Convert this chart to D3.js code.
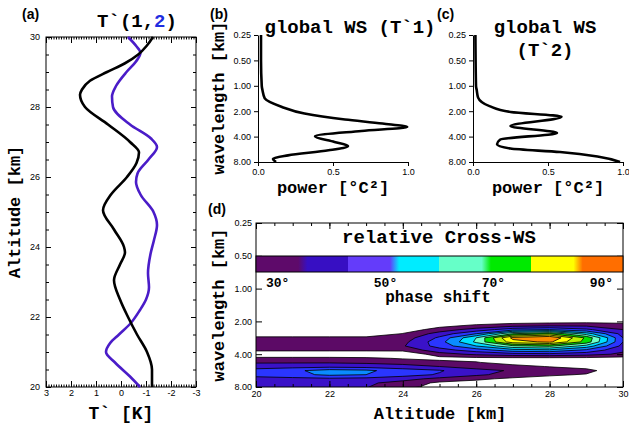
<!doctype html>
<html>
<head>
<script src="https://cdnjs.cloudflare.com/ajax/libs/d3/7.8.5/d3.min.js"></script>
<style>
body { margin: 0; background: #fff; }
svg { display: block; }
.tick text { font-family: "Liberation Sans", Arial, sans-serif; font-size: 9px; fill: #000; }
.tick line, .domain { stroke: #000; }
.mono { font-family: "Liberation Mono", "DejaVu Sans Mono", monospace; font-weight: bold; fill: #000; }
.plab { font-family: "Liberation Sans", Arial, sans-serif; font-size: 14px; font-weight: bold; fill: #000; }
</style>
</head>
<body>
<svg width="629" height="427"></svg>
<script>
// (a) temperature perturbation profiles
const blackAlt = [30, 29.75, 29.5, 29.25, 29, 28.75, 28.5, 28.35, 28, 27.5, 27, 26.7, 26.4, 26, 25.5, 25.05, 24.5, 24, 23.85, 23.5, 23.05, 22.5, 22, 21.5, 21, 20.5, 20];
const blackT = [-1.28, -1.03, -0.69, -0.16, 0.56, 1.24, 1.56, 1.64, 1.44, 0.52, -0.36, -0.72, -0.62, -0.24, 0.4, 0.72, 0.28, -0.12, -0.16, 0.04, 0.28, 0.04, -0.28, -0.64, -1.04, -1.24, -1.24];
const blueAlt = [30, 29.75, 29.55, 29.3, 29, 28.6, 28.3, 28, 27.5, 27.1, 26.86, 26.5, 26.1, 25.86, 25.5, 25, 24.63, 24.2, 23.8, 23.25, 22.85, 22.5, 22.2, 21.8, 21.5, 21.25, 21, 20.7, 20.3, 20];
const blueT = [-0.28, -0.6, -0.78, -0.6, -0.22, 0.2, 0.36, 0.32, -0.36, -1.2, -1.44, -1.1, -0.66, -0.6, -0.78, -1.3, -1.44, -1.32, -1.18, -1.08, -1.12, -1.0, -0.76, -0.36, 0.08, 0.44, 0.6, 0.24, -0.36, -0.76];
const altTicks = [20, 22, 24, 26, 28, 30];
const tTicks = [3, 2, 1, 0, -1, -2, -3];

// (b), (c) global wavelet spectra
const ws1Wave = [0.25, 0.5, 1.0, 1.13, 1.41, 1.78, 2.13, 2.51, 2.8, 3.08, 3.43, 3.97, 4.63, 5.17, 5.82, 6.68, 7.31, 8.0];
const ws1Power = [0.02, 0.02, 0.025, 0.03, 0.045, 0.16, 0.31, 0.58, 0.83, 0.995, 0.69, 0.38, 0.51, 0.6, 0.47, 0.2, 0.1, 0.12];
const ws2Wave = [0.25, 1.0, 1.13, 1.38, 1.74, 2.04, 2.33, 3.0, 3.62, 4.35, 4.93, 5.54, 6.1, 6.87, 8.0];
const ws2Power = [0.016, 0.02, 0.025, 0.034, 0.11, 0.25, 0.59, 0.25, 0.56, 0.18, 0.16, 0.25, 0.58, 0.83, 0.98];
const waveTicks = [0.25, 0.5, 1, 2, 4, 8];
const powerTicks = [0, 0.5, 1];

// (d) relative cross wavelet spectrum, rows = log2 wavelength, cols = altitude
const cwsAlt = [20, 21, 22, 23, 24, 25, 26, 27, 28, 29, 30];
const cwsLog2Wave = [0.75, 0.875, 1.0, 1.125, 1.25, 1.375, 1.5, 1.625, 1.75, 1.875, 2.0, 2.125, 2.25, 2.375, 2.5, 2.625, 2.75, 2.875, 3.0];
const cwsGrid = [
  [0, 0, 0, 0, 0, 0, 0, 0, 0, 0, 0],
  [0, 0, 0, 0, 0, 0, 0, 0, 0, 0, 0],
  [0, 0, 0, 0, 0, 0, 0.2, 0.4, 0.5, 0.6, 0.5],
  [0, 0, 0, 0, 0, 0.6, 1.2, 1.6, 1.8, 1.8, 1.6],
  [0, 0, 0, 0, 0.3, 1.5, 2.4, 3.6, 4.0, 3.2, 2.0],
  [0, 0, 0, 0, 1.05, 2.4, 4.0, 7.0, 8.0, 5.5, 2.6],
  [1.3, 1.3, 1.3, 1.3, 1.4, 3.2, 6.0, 10.3, 11, 7.8, 3.0],
  [1.6, 1.6, 1.6, 1.6, 1.7, 3.6, 6.2, 9.6, 10.2, 7.6, 3.0],
  [1.6, 1.6, 1.6, 1.6, 1.9, 3.4, 5.0, 6.8, 7.2, 5.6, 2.7],
  [1.25, 1.25, 1.25, 1.25, 1.3, 2.6, 3.5, 4.6, 4.8, 3.8, 2.2],
  [0, 0, 0, 0, 0, 1.6, 2.2, 2.6, 2.7, 2.4, 1.8],
  [1.3, 1.3, 1.3, 1.2, 0.9, 0.6, 0.7, 0.7, 0.7, 0.7, 0.6],
  [1.9, 1.9, 1.9, 1.8, 1.6, 1.4, 1.05, 0.6, 0.3, 0.2, 0.1],
  [2.5, 2.6, 2.7, 2.6, 2.4, 2.0, 1.6, 1.3, 0.95, 0.5, 0],
  [3.4, 3.8, 4.4, 4.2, 3.5, 3.1, 2.3, 1.9, 1.5, 1.4, 0],
  [3.4, 3.7, 4.2, 4.0, 3.4, 2.9, 2.2, 1.6, 1.2, 0.9, 0],
  [2.6, 2.7, 2.8, 2.7, 2.4, 1.7, 1.2, 0.8, 0.5, 0.2, 0],
  [2.3, 2.3, 2.3, 2.2, 1.6, 0.8, 0.6, 0.3, 0.1, 0, 0],
  [2.2, 2.2, 2.2, 2.05, 1.4, 0.5, 0.3, 0.1, 0, 0, 0]
];
const cwsLevels = [1, 2, 3, 4, 5, 6, 7, 8, 9, 10];
const cwsColors = ["#5c0a66", "#3a12c8", "#2a36ff", "#0a8cff", "#00e0ff", "#70ffc8", "#00e000", "#b8f000", "#ffff00", "#ff8c00"];
const cwsAltTicks = [20, 22, 24, 26, 28, 30];
const phaseTicks = [30, 50, 70, 90];
const barColors = ["#5e0a6a", "#370fc3", "#643cfa", "#00ecff", "#66ffc8", "#00ea00", "#ffff00", "#ff6e00"];

const svg = d3.select("svg");
svg.append("rect").attr("width", 629).attr("height", 427).attr("fill", "#fff");

function label(x, y, txt, size, rot) {
  const t = svg.append("text").attr("class", "mono").attr("font-size", size)
    .attr("text-anchor", "middle").text(txt);
  if (rot) t.attr("transform", "translate(" + x + "," + y + ") rotate(-90)");
  else t.attr("x", x).attr("y", y);
  return t;
}
function noDomain(g) { g.select(".domain").remove(); }

// ---------- (a)
const xa = d3.scaleLinear().domain([3, -3]).range([46, 196]);
const ya = d3.scaleLinear().domain([20, 30]).range([387, 37]);
const aMinorX = d3.range(-3, 3.001, 0.1);
const aMinorY = d3.range(20, 30.001, 0.5);

svg.append("g").attr("transform", "translate(0,387)")
  .call(d3.axisBottom(xa).tickValues(aMinorX).tickSize(-2.5).tickFormat("")).call(noDomain);
svg.append("g").attr("transform", "translate(0,387)")
  .call(d3.axisBottom(xa).tickValues(tTicks).tickSize(-6).tickPadding(3).tickFormat(d => String(d))).call(noDomain);
svg.append("g").attr("transform", "translate(0,37)")
  .call(d3.axisTop(xa).tickValues(aMinorX).tickSize(-2.5).tickFormat("")).call(noDomain);
svg.append("g").attr("transform", "translate(0,37)")
  .call(d3.axisTop(xa).tickValues(tTicks).tickSize(-6).tickFormat("")).call(noDomain);
svg.append("g").attr("transform", "translate(46,0)")
  .call(d3.axisLeft(ya).tickValues(aMinorY).tickSize(-3).tickFormat("")).call(noDomain);
svg.append("g").attr("transform", "translate(46,0)")
  .call(d3.axisLeft(ya).tickValues(altTicks).tickSize(-5).tickPadding(6)).call(noDomain);
svg.append("g").attr("transform", "translate(196,0)")
  .call(d3.axisRight(ya).tickValues(aMinorY).tickSize(-3).tickFormat("")).call(noDomain);
svg.append("g").attr("transform", "translate(196,0)")
  .call(d3.axisRight(ya).tickValues(altTicks).tickSize(-5).tickFormat("")).call(noDomain);
svg.append("rect").attr("x", 46).attr("y", 37).attr("width", 150).attr("height", 350)
  .attr("fill", "none").attr("stroke", "#000").attr("stroke-width", 1);

const lineA = d3.line().curve(d3.curveMonotoneY).x(d => xa(d[1])).y(d => ya(d[0]));
svg.append("path").datum(d3.zip(blueAlt, blueT)).attr("d", lineA)
  .attr("fill", "none").attr("stroke", "#4a1cc8").attr("stroke-width", 2.6);
svg.append("path").datum(d3.zip(blackAlt, blackT)).attr("d", lineA)
  .attr("fill", "none").attr("stroke", "#000").attr("stroke-width", 2.6);

const ta = svg.append("text").attr("class", "mono").attr("font-size", 19)
  .attr("x", 137).attr("y", 27).attr("text-anchor", "middle");
ta.append("tspan").text("T`(1,");
ta.append("tspan").attr("fill", "#1f2de0").text("2");
ta.append("tspan").text(")");
label(121, 419, "T` [K]", 18);
label(20, 212, "Altitude [km]", 17, true);
svg.append("text").attr("class", "plab").attr("x", 22).attr("y", 19).text("(a)");

// ---------- (b) and (c)
function wsPanel(x0, wave, power) {
  const xs = d3.scaleLinear().domain([0, 1]).range([x0, x0 + 150]);
  const ys = d3.scaleLog().base(2).domain([0.25, 8]).range([35, 162]);
  svg.append("g").attr("transform", "translate(" + x0 + ",0)")
    .call(d3.axisLeft(ys).tickValues(waveTicks).tickFormat(d3.format(".2f")).tickSize(4).tickSizeOuter(0));
  svg.append("g").attr("transform", "translate(0,162)")
    .call(d3.axisBottom(xs).tickValues(powerTicks).tickFormat(d3.format(".1f")).tickSize(4).tickSizeOuter(0));
  const ln = d3.line().curve(d3.curveMonotoneY).x(d => xs(d[1])).y(d => ys(d[0]));
  svg.append("path").datum(d3.zip(wave, power)).attr("d", ln)
    .attr("fill", "none").attr("stroke", "#000").attr("stroke-width", 2.6);
  label(x0 + 75, 193, "power [°C²]", 17);
}
wsPanel(258, ws1Wave, ws1Power);
wsPanel(473, ws2Wave, ws2Power);
label(224, 98, "wavelength [km]", 17, true);
label(350, 33, "global WS (T`1)", 19);
label(545, 33, "global WS", 19);
label(545, 56, "(T`2)", 19);
svg.append("text").attr("class", "plab").attr("x", 210).attr("y", 19).text("(b)");
svg.append("text").attr("class", "plab").attr("x", 437).attr("y", 19).text("(c)");

// ---------- (d)
const xd = d3.scaleLinear().domain([20, 30]).range([256, 623]);
const yd = d3.scaleLog().base(2).domain([0.25, 8]).range([223, 387]);

svg.append("clipPath").attr("id", "clipD").append("rect")
  .attr("x", 256).attr("y", 223).attr("width", 367).attr("height", 164);

const nx = cwsAlt.length, ny = cwsLog2Wave.length;
const gx = d3.scaleLinear().domain([0.5, nx - 0.5]).range([cwsAlt[0], cwsAlt[nx - 1]]);
const gy = d3.scaleLinear().domain([0.5, ny - 0.5]).range([cwsLog2Wave[0], cwsLog2Wave[ny - 1]]);
const proj = d3.geoTransform({
  point: function(px, py) { this.stream.point(xd(gx(px)), yd(Math.pow(2, gy(py)))); }
});
const cPath = d3.geoPath(proj);
const bands = d3.contours().size([nx, ny]).thresholds(cwsLevels)(cwsGrid.flat());

svg.append("g").attr("clip-path", "url(#clipD)")
  .selectAll("path").data(bands).join("path")
  .attr("d", cPath)
  .attr("fill", (d, i) => cwsColors[i])
  .attr("fill-rule", "evenodd")
  .attr("stroke", "#000").attr("stroke-width", 0.8).attr("stroke-linejoin", "round");

const dMinorX = d3.range(20, 30.001, 0.5);
svg.append("g").attr("transform", "translate(0,387)")
  .call(d3.axisBottom(xd).tickValues(dMinorX).tickSize(-3).tickFormat("")).call(noDomain);
svg.append("g").attr("transform", "translate(0,387)")
  .call(d3.axisBottom(xd).tickValues(cwsAltTicks).tickSize(-6).tickPadding(4)).call(noDomain);
svg.append("g").attr("transform", "translate(0,223)")
  .call(d3.axisTop(xd).tickValues(dMinorX).tickSize(-3).tickFormat("")).call(noDomain);
svg.append("g").attr("transform", "translate(0,223)")
  .call(d3.axisTop(xd).tickValues(cwsAltTicks).tickSize(-6).tickFormat("")).call(noDomain);
svg.append("g").attr("transform", "translate(256,0)")
  .call(d3.axisLeft(yd).tickValues(waveTicks).tickSize(-6).tickPadding(4).tickFormat(d3.format(".2f"))).call(noDomain);
svg.append("g").attr("transform", "translate(623,0)")
  .call(d3.axisRight(yd).tickValues(waveTicks).tickSize(-6).tickFormat("")).call(noDomain);
svg.append("rect").attr("x", 256).attr("y", 223).attr("width", 367).attr("height", 164)
  .attr("fill", "none").attr("stroke", "#000").attr("stroke-width", 1);

// colour bar for phase shift
const grad = svg.append("defs").append("linearGradient").attr("id", "phaseBar");
const stops = [];
for (let k = 0; k < 4; k++) {
  const s = k * 0.25;
  stops.push([s, barColors[2 * k]], [s + 0.115, barColors[2 * k]],
             [s + 0.14, barColors[2 * k + 1]], [s + 0.25, barColors[2 * k + 1]]);
}
grad.selectAll("stop").data(stops).join("stop")
  .attr("offset", d => d[0]).attr("stop-color", d => d[1]);
svg.append("rect").attr("x", 256).attr("y", 256).attr("width", 367).attr("height", 16)
  .attr("fill", "url(#phaseBar)").attr("stroke", "#000").attr("stroke-width", 1);

const xp = d3.scaleLinear().domain([26, 94]).range([256, 623]);
svg.append("g").selectAll("text").data(phaseTicks).join("text")
  .attr("class", "mono").attr("font-size", 13).attr("text-anchor", "middle")
  .attr("x", d => xp(d)).attr("y", 287).text(d => d + "°");

label(439, 243, "relative Cross-WS", 19);
label(438, 302, "phase shift", 16);
label(440, 419, "Altitude [km]", 17);
label(224, 305, "wavelength [km]", 17, true);
svg.append("text").attr("class", "plab").attr("x", 208).attr("y", 214).text("(d)");
</script>
</body>
</html>
